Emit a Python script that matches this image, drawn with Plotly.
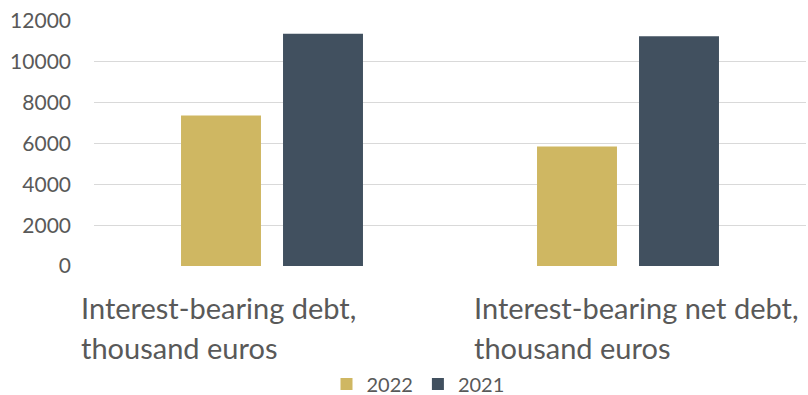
import plotly.graph_objects as go

# Chart data
categories = ["Interest-bearing debt, thousand euros",
              "Interest-bearing net debt, thousand euros"]
series_names = ["2022", "2021"]
values_2022 = [7370, 5850]
values_2021 = [11370, 11250]
y_ticks = [0, 2000, 4000, 6000, 8000, 10000, 12000]

colors = {"2022": "#CFB762", "2021": "#41505F"}
font_family = "Lato, 'Open Sans', sans-serif"
text_color = "#595959"

fig = go.Figure()
for name, vals in zip(series_names, [values_2022, values_2021]):
    fig.add_trace(go.Bar(
        x=categories, y=vals, name=name,
        marker=dict(color=colors[name], line=dict(width=0)),
    ))

# Plot area geometry (pixels) used to place the wrapped category labels
W, H = 808, 395
ml, mr, mt, mb = 94, 2, 21, 129
pw = W - ml - mr
ph = H - mt - mb

def px_x(px):
    return (px - ml) / pw

def px_y(py):
    return (H - mb - py) / ph

label_left = [79, 472]
annotations = []
for cat, left in zip(categories, label_left):
    first, second = cat.split(", ")
    for line, py in [(first + ",", 307), (second, 347)]:
        annotations.append(dict(
            text=line, xref="paper", yref="paper",
            x=px_x(left), y=px_y(py), xanchor="left", yanchor="middle",
            showarrow=False, align="left",
            font=dict(family=font_family, size=29, color=text_color),
        ))

fig.update_layout(
    width=W, height=H,
    margin=dict(l=ml, r=mr, t=mt, b=mb, pad=0, autoexpand=False),
    paper_bgcolor="white", plot_bgcolor="white",
    barmode="group", bargap=0.427, bargroupgap=0.216,
    font=dict(family=font_family, color=text_color),
    showlegend=True,
    legend=dict(
        orientation="h", x=px_x(418), y=px_y(384),
        xanchor="center", yanchor="middle",
        font=dict(family=font_family, size=20, color=text_color),
        itemwidth=30, traceorder="normal",
        tracegroupgap=0,
    ),
    annotations=annotations,
    xaxis=dict(showticklabels=False, showgrid=False, zeroline=False,
               showline=False, ticks=""),
    yaxis=dict(range=[0, 12000], tickvals=y_ticks,
               ticktext=[str(v) for v in y_ticks],
               showgrid=True, gridcolor="#D9D9D9", gridwidth=1.3,
               zeroline=False, showline=False, ticks="", ticklen=0,
               tickfont=dict(family=font_family, size=21, color=text_color),
               ticklabelstandoff=22),
)

fig.write_html("out.html")
